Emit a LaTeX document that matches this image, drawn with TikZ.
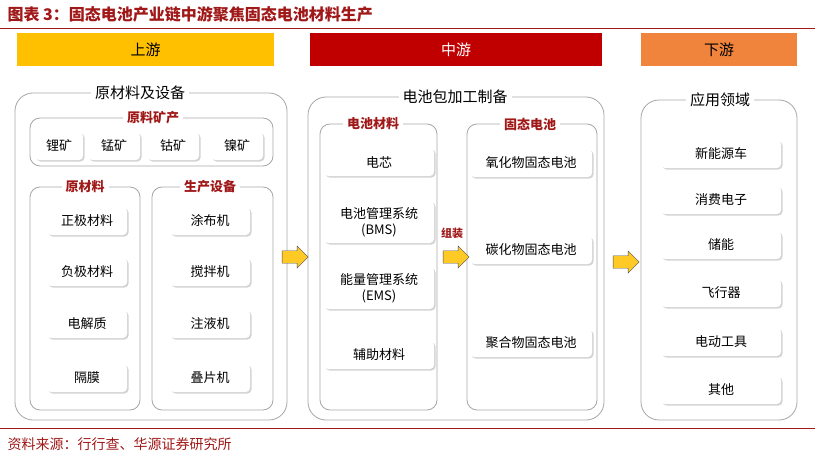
\documentclass[tikz,border=0pt]{standalone}
\usepackage{fontspec}
\setmainfont{Noto Sans CJK SC}
\usetikzlibrary{shadows,shapes.arrows}
\definecolor{titred}{HTML}{A01818}
\definecolor{upyel}{HTML}{FFC000}
\definecolor{midred}{HTML}{C00000}
\definecolor{downor}{HTML}{F0843C}
\newcommand{\fsz}[1]{\fontsize{#1}{#1}\selectfont}
\tikzset{
  hdr/.style={minimum width=#1, minimum height=33pt, inner sep=0pt, font=\fsz{15}},
  group/.style={draw=gray!70, rounded corners=18pt, thick},
  sub/.style={draw=gray!70, rounded corners=10pt, thick},
  gtitle/.style={fill=white, inner sep=4pt, font=\fsz{15}},
  stitle/.style={fill=white, inner sep=4pt, text=titred, font=\fsz{13}\bfseries},
  item/.style={fill=white, rounded corners=4pt, minimum height=28pt, minimum width=#1, align=center,
    inner sep=1pt, font=\fsz{13}, drop shadow={shadow xshift=1.5pt, shadow yshift=-1.5pt, opacity=0.35}},
  item/.default=80pt,
  fat/.style={single arrow, draw=gray!60!black, fill=upyel!85, minimum height=26pt, minimum width=22pt,
    single arrow head extend=4pt, inner xsep=0pt, inner ysep=5pt}
}
\begin{document}
\begin{tikzpicture}[x=1pt,y=-1pt]
\useasboundingbox (0,0) rectangle (815,460);
\node[anchor=west, text=titred, font=\fsz{16}\bfseries] (title) at (4,14) {图表 3：固态电池产业链中游聚焦固态电池材料生产};
\draw[titred, thick] (0,28) -- (815,28);
\draw[titred, thick] (0,428) -- (815,428);
\node[anchor=west, text=titred, font=\fsz{14}] (src) at (4,444) {资料来源：行行查、华源证券研究所};
% headers
\node[hdr=257pt, fill=upyel] (up) at (145.5,49.5) {上游};
\node[hdr=292pt, fill=midred, text=white] (mid) at (456,49.5) {中游};
\node[hdr=156pt, fill=downor] (down) at (719,49.5) {下游};
% groups
\draw[group] (15,93) rectangle (287,420);
\node[gtitle] (gup) at (140,93) {原材料及设备};
\draw[group] (308,97) rectangle (604,420);
\node[gtitle] (gmid) at (455,97) {电池包加工制备};
\draw[group] (641,100) rectangle (797,420);
\node[gtitle] (gdown) at (720,100) {应用领域};
% upstream
\draw[sub] (30,118) rectangle (273,166);
\node[stitle] (ore) at (153,118) {原料矿产};
\node[item=48pt] (li) at (59,146) {锂矿};
\node[item=52pt] (mn) at (114,146) {锰矿};
\node[item=52pt] (co) at (173,146) {钴矿};
\node[item=52pt] (ni) at (237,146) {镍矿};
\draw[sub] (30,187) rectangle (140,410);
\node[stitle] (raw) at (85,187) {原材料};
\draw[sub] (152,187) rectangle (273,410);
\node[stitle] (equip) at (210,187) {生产设备};
\foreach \t/\y [count=\i] in {正极材料/221,负极材料/272,电解质/324,隔膜/378}
  \node[item] (raw\i) at (87,\y) {\t};
\foreach \t/\y [count=\i] in {涂布机/221,搅拌机/272,注液机/324,叠片机/378}
  \node[item] (eq\i) at (210,\y) {\t};
% midstream
\draw[sub] (320,124) rectangle (437,410);
\node[stitle] (bmat) at (373,124) {电池材料};
\node[item=110pt] (cell) at (379,162) {电芯};
\node[item=110pt, minimum height=42pt] (bms) at (379,222) {电池管理系统\\[3pt](BMS)};
\node[item=110pt, minimum height=42pt] (ems) at (379,288) {能量管理系统\\[3pt](EMS)};
\node[item=110pt] (aux) at (379,355) {辅助材料};
\draw[sub] (467,124) rectangle (597,410);
\node[stitle] (ssb) at (530,124) {固态电池};
\node[item=122pt] (ox) at (531,163) {氧化物固态电池};
\node[item=122pt] (sul) at (531,250) {碳化物固态电池};
\node[item=122pt] (poly) at (531,343) {聚合物固态电池};
% downstream
\foreach \t/\y [count=\i] in {新能源车/154,消费电子/200,储能/245,飞行器/293,电动工具/342,其他/390}
  \node[item=120pt] (app\i) at (721,\y) {\t};
% arrows
\node[fat] (a1) at (292,257) {};
\node[fat] (a2) at (453,257) {};
\node[fat] (a3) at (623,262) {};
\node[text=titred, font=\fsz{11}\bfseries] (asm) at (452,233) {组装};
\end{tikzpicture}
\end{document}
